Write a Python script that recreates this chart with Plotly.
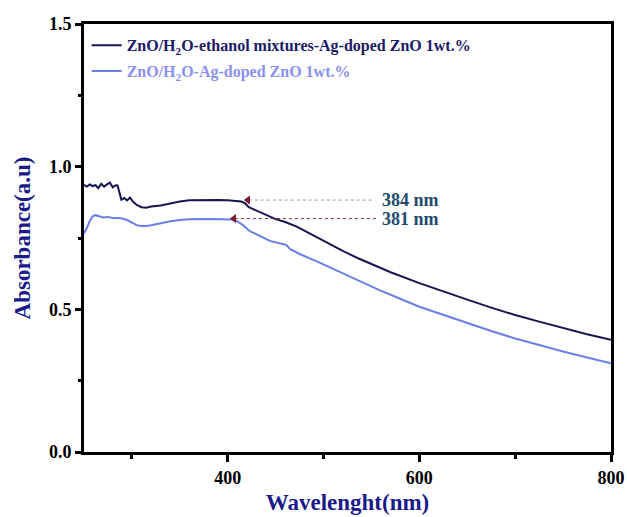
import plotly.graph_objects as go

# ---- data ----
wl_eth = [250, 253, 256, 259, 262, 265, 268, 271, 274, 277, 280, 283, 285, 287, 289, 292, 295, 298, 301,
          305, 310, 315, 320, 330, 340, 350, 360, 370, 380, 390, 400, 410, 414, 418, 422, 426, 430, 436,
          444, 450, 460, 472, 480, 490, 500, 510, 520, 536, 550, 570, 600, 625, 650, 675, 700, 725, 750,
          775, 800]
abs_eth = [0.936, 0.930, 0.938, 0.932, 0.935, 0.925, 0.940, 0.930, 0.938, 0.944, 0.928, 0.935, 0.934,
           0.905, 0.884, 0.890, 0.882, 0.892, 0.878, 0.866, 0.858, 0.856, 0.860, 0.864, 0.872, 0.878,
           0.882, 0.883, 0.883, 0.883, 0.882, 0.880, 0.878, 0.872, 0.858, 0.852, 0.846, 0.836, 0.823,
           0.816, 0.806, 0.790, 0.776, 0.758, 0.740, 0.722, 0.705, 0.679, 0.658, 0.630, 0.592, 0.562,
           0.534, 0.506, 0.480, 0.457, 0.434, 0.413, 0.393]

wl_h2o = [250, 253, 256, 259, 262, 266, 270, 275, 280, 285, 290, 295, 300, 305, 310, 315, 320, 330, 340,
          350, 360, 380, 400, 405, 410, 416, 423, 430, 444, 455, 461, 465, 475, 493, 510, 536, 560, 600,
          625, 650, 675, 700, 725, 750, 775, 800]
abs_h2o = [0.766, 0.785, 0.810, 0.826, 0.830, 0.826, 0.822, 0.824, 0.820, 0.820, 0.818, 0.813, 0.805,
           0.795, 0.792, 0.792, 0.795, 0.802, 0.809, 0.813, 0.816, 0.817, 0.817, 0.815, 0.808, 0.795,
           0.774, 0.762, 0.740, 0.731, 0.726, 0.712, 0.694, 0.668, 0.642, 0.603, 0.565, 0.509, 0.480,
           0.452, 0.424, 0.398, 0.374, 0.352, 0.331, 0.311]

DARK = "#15154f"
LIGHT = "#6d7ee6"
DARK_TXT = "#1a1a66"
LIGHT_TXT = "#8a90f0"

name_eth = f'<span style="color:{DARK_TXT}">ZnO/H<sub>2</sub>O-ethanol mixtures-Ag-doped ZnO 1wt.%</span>'
name_h2o = f'<span style="color:{LIGHT_TXT}">ZnO/H<sub>2</sub>O-Ag-doped ZnO 1wt.%</span>'

peak_labels = ["384 nm", "381 nm"]
peak_tip_x = [418, 403.5]
peak_y = [0.883, 0.818]
guide_end_x = [551, 557]
label_x = [559, 559]

x_ticks = [400, 600, 800]
x_minor = [300, 500, 700]
y_ticks = [0.0, 0.5, 1.0, 1.5]
y_minor = [0.25, 0.75, 1.25]

SERIF = "Liberation Serif"

fig = go.Figure()
fig.add_trace(go.Scatter(x=wl_eth, y=abs_eth, mode="lines", name=name_eth,
                         line=dict(color=DARK, width=2), legendgroup="a"))
fig.add_trace(go.Scatter(x=wl_h2o, y=abs_h2o, mode="lines", name=name_h2o,
                         line=dict(color=LIGHT, width=2), legendgroup="b"))

guide_colors = ["#9a9a9a", "#7a2a3a"]
for i in range(2):
    fig.add_trace(go.Scatter(x=[peak_tip_x[i] + 4, guide_end_x[i]], y=[peak_y[i], peak_y[i]],
                             mode="lines", showlegend=False, hoverinfo="skip",
                             line=dict(color=guide_colors[i], width=1, dash="dot")))
    fig.add_trace(go.Scatter(x=[peak_tip_x[i] + 3], y=[peak_y[i]], mode="markers", showlegend=False,
                             marker=dict(symbol="triangle-left", size=8, color="#7a1530")))
    fig.add_annotation(x=label_x[i], y=peak_y[i], text=peak_labels[i], showarrow=False,
                       xanchor="left", yanchor="middle",
                       font=dict(family=SERIF, size=18, color="#1d4a6c", weight="bold"))

fig.update_layout(
    width=627, height=517,
    margin=dict(l=84, r=16, t=24, b=65, autoexpand=False),
    paper_bgcolor="white", plot_bgcolor="white",
    showlegend=True,
    legend=dict(x=0.005, y=0.99, xanchor="left", yanchor="top", bgcolor="rgba(0,0,0,0)",
                font=dict(family=SERIF, size=16, weight="bold"), tracegroupgap=2),
    font=dict(family=SERIF),
)

fig.update_xaxes(range=[250, 800], tickvals=x_ticks, ticks="outside", ticklen=7, tickwidth=3,
                 tickcolor="black", showline=True, linewidth=3, linecolor="black", mirror=True,
                 showgrid=False, zeroline=False, automargin=False,
                 tickfont=dict(family=SERIF, size=18, color="black", weight="bold"),
                 minor=dict(tickvals=x_minor, ticks="outside", ticklen=4, tickwidth=3, tickcolor="black"),
                 title=dict(text="Wavelenght(nm)", standoff=8,
                            font=dict(family=SERIF, size=23, color="#1a1a8a", weight="bold")))
fig.update_yaxes(range=[0, 1.5], tickvals=y_ticks, tickformat=".1f", ticks="outside", ticklen=6,
                 tickwidth=3, tickcolor="black", showline=True, linewidth=3, linecolor="black",
                 mirror=True, showgrid=False, zeroline=False, automargin=False,
                 tickfont=dict(family=SERIF, size=18, color="black", weight="bold"),
                 minor=dict(tickvals=y_minor, ticks="outside", ticklen=3, tickwidth=3, tickcolor="black"),
                 title=dict(text="Absorbance(a.u)", standoff=12,
                            font=dict(family=SERIF, size=23, color="#1a1a8a", weight="bold")))

fig.write_html("out.html")
